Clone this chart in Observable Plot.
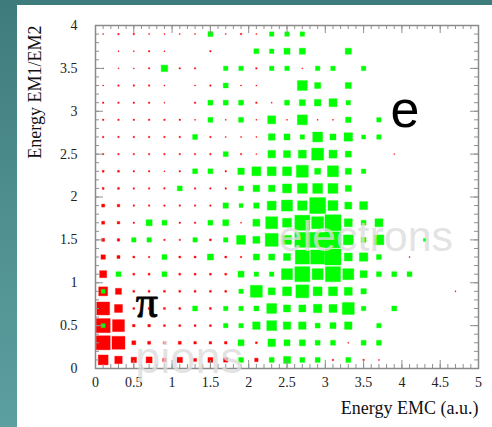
<!DOCTYPE html>
<html><head><meta charset="utf-8">
<script src="https://cdn.jsdelivr.net/npm/d3@7"></script>
<script src="https://cdn.jsdelivr.net/npm/@observablehq/plot@0.6"></script>
<style>
html,body{margin:0;padding:0;width:492px;height:427px;overflow:hidden;background:linear-gradient(180deg,#3e7b7c 0%,#4f8f90 50%,#5c9fa0 100%);}
#panel{position:absolute;left:17px;top:5px;width:475px;height:422px;background:#fff;}
#chart{position:absolute;left:0;top:0;}
</style></head><body><div id="panel"></div><div id="chart"></div>
<script>
// bin centres
const xCenters = [0.1,0.3,0.5,0.7,0.9,1.1,1.3,1.5,1.7,1.9,2.1,2.3,2.5,2.7,2.9,3.1,3.3,3.5,3.7,3.9,4.1,4.3,4.5,4.7,4.9];
const yCenters = [0.1,0.3,0.5,0.7,0.9,1.1,1.3,1.5,1.7,1.9,2.1,2.3,2.5,2.7,2.9,3.1,3.3,3.5,3.7,3.9];
// pion counts, one row per yCenter (bottom to top)
const pions = [
 [62,47,34,38,22,34,19,31,28,0,22,0,0,0,0,9,0,9,6,0,0,0,0,0,0],
 [88,81,25,19,16,19,16,16,16,0,12,0,0,0,0,0,6,0,0,0,0,0,0,0,0],
 [88,75,16,16,12,12,12,12,0,0,0,0,0,0,0,0,0,0,0,0,0,0,0,0,0],
 [81,50,12,12,12,12,0,12,0,0,0,0,0,0,0,0,0,0,0,0,0,0,0,0,0],
 [56,38,12,12,12,12,12,12,12,0,0,0,0,0,0,0,0,0,0,0,0,0,0,6,0],
 [44,0,12,12,0,12,12,12,12,0,0,0,0,0,0,0,0,0,0,0,0,0,0,0,0],
 [28,19,12,9,0,12,12,0,12,9,0,0,0,0,0,0,0,0,0,0,6,0,0,0,0],
 [19,16,0,0,9,9,0,12,0,0,0,0,0,0,0,0,0,0,0,0,0,0,0,0,0],
 [19,16,9,0,0,9,9,0,0,6,0,0,0,0,0,0,0,0,0,0,0,0,0,0,0],
 [19,16,9,9,9,9,9,9,0,0,0,0,0,0,0,0,0,0,0,0,0,0,0,0,0],
 [12,12,9,9,9,0,9,9,9,0,0,0,0,0,0,0,0,0,0,0,0,0,0,0,0],
 [12,12,9,9,6,9,0,0,9,0,0,0,0,0,0,0,0,0,0,0,0,0,0,0,0],
 [9,9,9,9,9,9,9,9,0,9,6,0,0,0,0,0,0,0,0,6,0,0,0,0,0],
 [9,9,9,9,9,9,0,9,6,6,6,0,0,0,0,0,0,0,0,0,0,0,0,0,0],
 [9,9,9,9,9,9,6,0,6,0,6,0,6,0,6,6,0,0,0,0,0,0,0,0,0],
 [9,9,9,9,6,0,9,0,0,0,9,6,0,0,0,0,0,0,0,0,0,0,0,0,0],
 [6,9,9,9,6,0,6,9,0,6,6,0,0,0,0,0,0,0,0,0,0,0,0,0,0],
 [6,6,6,9,0,9,9,0,0,0,9,0,0,6,0,0,0,0,0,0,0,0,0,0,0],
 [0,6,6,9,6,0,0,9,0,0,0,0,0,0,0,0,0,0,0,0,0,0,0,0,0],
 [6,9,9,6,6,6,6,0,6,9,6,0,0,0,0,0,0,0,0,0,0,0,0,0,0]
];
// electron counts, one row per yCenter (bottom to top)
const electrons = [
 [0,0,0,0,0,0,0,0,0,31,0,31,44,31,31,0,31,0,0,0,0,0,0,0,0],
 [0,0,0,0,0,0,0,0,0,38,0,47,38,38,31,31,0,31,31,0,0,0,0,0,0],
 [25,0,0,0,0,0,0,0,28,28,47,62,47,47,31,38,47,0,28,0,0,0,0,0,0],
 [0,0,0,0,0,0,31,0,28,28,31,62,44,44,53,50,75,28,0,31,0,0,0,0,0],
 [25,0,0,0,0,0,0,0,0,28,75,44,56,81,56,56,50,34,0,0,0,0,0,0,0],
 [0,31,0,0,31,0,0,0,0,38,28,28,69,94,69,94,69,44,31,31,31,0,0,0,0],
 [0,0,0,0,31,0,0,38,0,0,38,38,44,88,88,100,50,53,31,0,0,0,0,0,0],
 [0,0,28,28,0,0,28,0,28,56,44,81,56,94,94,100,62,31,62,0,0,19,0,0,0],
 [0,0,0,38,31,0,0,31,38,0,44,75,56,94,75,100,50,31,50,0,0,0,0,0,0],
 [0,0,0,0,0,0,0,0,34,25,34,56,69,59,100,62,44,50,0,0,0,0,0,0,0],
 [0,0,0,0,0,31,0,0,0,31,41,41,56,62,62,62,38,0,0,0,0,0,0,0,0],
 [0,0,0,0,0,0,31,31,0,41,56,56,56,75,38,69,38,28,0,0,0,0,0,0,0],
 [0,0,0,0,0,0,0,0,31,0,0,47,44,50,75,50,38,0,0,0,0,0,0,0,0],
 [0,0,0,0,0,0,31,0,0,0,0,41,38,28,62,38,53,25,28,0,0,0,0,0,0],
 [0,0,0,0,0,0,0,31,0,31,0,50,0,62,0,0,34,0,28,0,0,0,0,0,0],
 [0,0,0,0,0,0,0,31,31,31,0,0,31,38,41,50,28,0,0,0,0,0,0,0,0],
 [0,0,0,0,0,0,0,0,31,0,0,0,0,62,38,0,38,0,0,0,0,0,0,0,0],
 [0,0,0,0,41,0,0,0,28,28,0,28,28,0,28,28,0,28,0,0,0,0,0,0,0],
 [0,0,0,0,0,0,0,0,0,0,31,28,38,38,0,0,38,0,0,0,0,0,0,0,0],
 [0,0,0,0,0,0,0,31,0,0,0,28,28,28,0,0,0,0,0,0,0,0,0,0,0]
];
const xTickValues = [0,0.5,1,1.5,2,2.5,3,3.5,4,4.5,5];
const xTickLabels = ["0","0.5","1","1.5","2","2.5","3","3.5","4","4.5","5"];
const yTickValues = [0,0.5,1,1.5,2,2.5,3,3.5,4];
const yTickLabels = ["0","0.5","1","1.5","2","2.5","3","3.5","4"];
const xTitle = "Energy EMC (a.u.)";
const yTitle = "Energy EM1/EM2";
const annotations = ["e", "π", "electrons", "pions"];

function cells(matrix) {
  const out = [];
  matrix.forEach((row, i) => row.forEach((v, j) => { if (v > 0) out.push({x: xCenters[j], y: yCenters[i], count: v}); }));
  return out;
}
const pionCells = cells(pions);
const electronCells = cells(electrons);

const W = 492, H = 427, mL = 95, mR = 14, mT = 25, mB = 59;
const fw = W - mL - mR, fh = H - mT - mB;
const minorX = d3.range(0, 51).map(i => i / 10);
const minorY = d3.range(0, 41).map(i => i / 10);
const tc = "#909090";
const serif = "Liberation Serif";
const sans = "Liberation Sans";

const chart = Plot.plot({
  width: W, height: H,
  marginLeft: mL, marginRight: mR, marginTop: mT, marginBottom: mB,
  style: {background: "transparent", overflow: "visible"},
  x: {domain: [0, 5], axis: null},
  y: {domain: [0, 4], axis: null},
  r: {type: "linear", domain: [0, 100], range: [0, 16 / Math.sqrt(Math.PI)]},
  marks: [
    Plot.dot(pionCells, {x: "x", y: "y", r: "count", symbol: "square", fill: "#ff0000", stroke: "#ff0000", strokeOpacity: 0.35, strokeWidth: 1}),
    Plot.dot(electronCells, {x: "x", y: "y", r: "count", symbol: "square", fill: "#00ff00", stroke: "#00ff00", strokeOpacity: 0.35, strokeWidth: 1}),
    // minor / major inward ticks
    Plot.tickX(minorX, {x: d => d, insetTop: fh - 4, stroke: tc}),
    Plot.tickX(minorX, {x: d => d, insetBottom: fh - 4, stroke: tc}),
    Plot.tickX(xTickValues, {x: d => d, insetTop: fh - 8, stroke: tc}),
    Plot.tickX(xTickValues, {x: d => d, insetBottom: fh - 8, stroke: tc}),
    Plot.tickY(minorY, {y: d => d, insetRight: fw - 4, stroke: tc}),
    Plot.tickY(minorY, {y: d => d, insetLeft: fw - 4, stroke: tc}),
    Plot.tickY(yTickValues, {y: d => d, insetRight: fw - 8, stroke: tc}),
    Plot.tickY(yTickValues, {y: d => d, insetLeft: fw - 8, stroke: tc}),
    Plot.frame({stroke: "#8a8a8a", strokeWidth: 1.5}),
    Plot.axisX(xTickValues, {anchor: "bottom", tickSize: 0, tickPadding: 9, tickFormat: (d, i) => xTickLabels[i], fontSize: 14, fontFamily: serif, fill: "#222", label: null}),
    Plot.axisY(yTickValues, {anchor: "left", tickSize: 0, tickPadding: 18, tickFormat: (d, i) => yTickLabels[i], fontSize: 14, fontFamily: serif, fill: "#222", label: null}),
    Plot.text([xTitle], {frameAnchor: "bottom-right", textAnchor: "end", lineAnchor: "bottom", dy: 45, fontSize: 18, fontFamily: serif, fill: "#111"}),
    Plot.text([yTitle], {frameAnchor: "top-left", textAnchor: "end", lineAnchor: "bottom", rotate: -90, dx: -55, fontSize: 18, fontFamily: serif, fill: "#111"}),
    Plot.text([annotations[0]], {x: 4.04, y: 3.01, fontSize: 52, fontFamily: sans, fill: "#000", lineAnchor: "middle"}),
    Plot.text([annotations[1]], {x: 0.67, y: 0.76, fontSize: 44, fontFamily: serif, fill: "#000", stroke: "#000", strokeWidth: 0.9, lineAnchor: "middle"}),
    Plot.text([annotations[2]], {x: 2.39, y: 1.376, fontSize: 43, fontFamily: sans, fill: "#dcdcdc", fillOpacity: 0.78, textAnchor: "start", lineAnchor: "bottom"}),
    Plot.text([annotations[3]], {x: 0.52, y: -0.058, fontSize: 45, fontFamily: sans, fill: "#dcdcdc", fillOpacity: 0.78, textAnchor: "start", lineAnchor: "bottom"})
  ]
});
document.getElementById("chart").appendChild(chart);
</script>
</body></html>
